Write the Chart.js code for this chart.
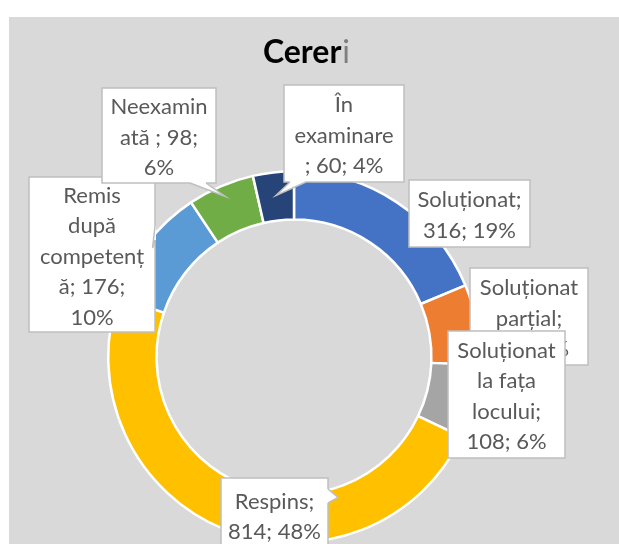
<!DOCTYPE html>
<html lang="ro">
<head>
<meta charset="UTF-8" />
<title>Cereri</title>
<script src="https://cdn.jsdelivr.net/npm/chart.js"></script>
<style>
  html, body { margin: 0; padding: 0; background: #fff; }
  #wrap { position: relative; width: 619px; height: 544px; overflow: hidden; }
  #panel { position: absolute; left: 9px; top: 17px; right: 0; bottom: 0; background: #d9d9d9; }
  #chart { position: absolute; left: 0; top: 0; }
</style>
</head>
<body>
<div id="wrap">
  <div id="panel"></div>
  <canvas id="chart" width="619" height="544"></canvas>
</div>
<script>
const chartTitle = "Cereri";
const categories = ["Soluționat", "Soluționat parțial", "Soluționat la fața locului", "Respins", "Remis după competență", "Neexaminată ", "În examinare "];
const values = [316, 118, 108, 814, 176, 98, 60];
const colors = ["#4472c4", "#ed7d31", "#a5a5a5", "#ffc000", "#5b9bd5", "#70ad47", "#264478"];

// callout boxes, one per slice (same order as categories)
// ptr: base points on the box edge, tip at a ring fraction f, optional angle in degrees
const boxes = [
  { x: 409, y: 180, w: 121, h: 67, wrap: 110 },
  { x: 470, y: 268, w: 118, h: 97, wrap: 106 },
  { x: 448, y: 331, w: 117, h: 127, wrap: 105 },
  { x: 221, y: 478, w: 107, h: 74, wrap: 100, ptr: { base: [328, 489, 328, 503], f: 0.2, angle: 162.6 } },
  { x: 29, y: 177, w: 126, h: 155, wrap: 106, ptr: { base: [155, 226, 155, 240], f: 0.85 } },
  { x: 102, y: 88, w: 114, h: 95, wrap: 102, ptr: { base: [190, 183, 206, 183], f: 0.77 } },
  { x: 284, y: 85, w: 120, h: 97, wrap: 104, ptr: { base: [290, 182, 306, 182], f: 0.52 } },
];

const FONT = "Lato, 'Noto Sans', sans-serif";
const total = values.reduce((a, b) => a + b, 0);

function wrapText(ctx, text, maxW) {
  const lines = [];
  let line = "";
  text.split(" ").filter((w) => w.length).forEach((word) => {
    const cand = line ? line + " " + word : word;
    if (ctx.measureText(cand).width <= maxW) {
      line = cand;
      return;
    }
    if (line) lines.push(line);
    line = word;
    while (ctx.measureText(line).width > maxW) {
      let n = line.length - 1;
      while (n > 1 && ctx.measureText(line.slice(0, n)).width > maxW) n--;
      lines.push(line.slice(0, n));
      line = line.slice(n);
    }
  });
  if (line) lines.push(line);
  return lines;
}

const calloutPlugin = {
  id: "callouts",
  afterDatasetsDraw(chart) {
    const ctx = chart.ctx;
    const arcs = chart.getDatasetMeta(0).data;
    ctx.save();
    arcs.forEach((arc, i) => {
      const b = boxes[i];
      const p = arc.getProps(["x", "y", "startAngle", "endAngle", "innerRadius", "outerRadius"], true);

      ctx.fillStyle = "#fff";
      ctx.strokeStyle = "#bfbfbf";
      ctx.lineWidth = 1.5;
      ctx.fillRect(b.x, b.y, b.w, b.h);
      ctx.strokeRect(b.x, b.y, b.w, b.h);

      if (b.ptr) {
        const ang = b.ptr.angle != null
          ? -Math.PI / 2 + (b.ptr.angle * Math.PI) / 180
          : (p.startAngle + p.endAngle) / 2;
        const r = p.innerRadius + (p.outerRadius - p.innerRadius) * b.ptr.f;
        const tx = p.x + Math.cos(ang) * r;
        const ty = p.y + Math.sin(ang) * r;
        const [x1, y1, x2, y2] = b.ptr.base;
        ctx.beginPath();
        ctx.moveTo(x1, y1);
        ctx.lineTo(tx, ty);
        ctx.lineTo(x2, y2);
        ctx.closePath();
        ctx.fill();
        ctx.strokeStyle = "#fff";
        ctx.lineWidth = 2;
        ctx.beginPath();
        ctx.moveTo(x1, y1);
        ctx.lineTo(x2, y2);
        ctx.stroke();
        ctx.strokeStyle = "#bfbfbf";
        ctx.lineWidth = 1.5;
        ctx.beginPath();
        ctx.moveTo(x1, y1);
        ctx.lineTo(tx, ty);
        ctx.lineTo(x2, y2);
        ctx.stroke();
      }

      const pct = Math.round((values[i] / total) * 100);
      const text = categories[i] + "; " + values[i] + "; " + pct + "%";
      ctx.font = "22px " + FONT;
      ctx.fillStyle = "#595959";
      ctx.textAlign = "center";
      ctx.textBaseline = "middle";
      const lines = wrapText(ctx, text, b.wrap);
      const lh = 30.5;
      const cy = b.y + b.h / 2 + 2 - ((lines.length - 1) * lh) / 2;
      lines.forEach((ln, k) => ctx.fillText(ln, b.x + b.w / 2, cy + k * lh));
    });
    ctx.restore();
  },
  afterDraw(chart) {
    const ctx = chart.ctx;
    ctx.save();
    const head = chartTitle.slice(0, -1);
    const tail = chartTitle.slice(-1);
    ctx.font = "bold 32px " + FONT;
    const w1 = ctx.measureText(head).width;
    ctx.font = "32px " + FONT;
    const w2 = ctx.measureText(tail).width;
    const x0 = 306 - (w1 + w2) / 2;
    ctx.textBaseline = "alphabetic";
    ctx.textAlign = "left";
    ctx.font = "bold 32px " + FONT;
    ctx.fillStyle = "#000";
    ctx.fillText(head, x0, 63);
    ctx.font = "32px " + FONT;
    ctx.fillStyle = "#7f7f7f";
    ctx.fillText(tail, x0 + w1 + 1, 63);
    ctx.restore();
  },
};

new Chart(document.getElementById("chart"), {
  type: "doughnut",
  data: {
    labels: categories,
    datasets: [
      {
        data: values,
        backgroundColor: colors,
        borderColor: "#fff",
        borderWidth: 2.5,
      },
    ],
  },
  options: {
    responsive: false,
    animation: false,
    cutout: "74%",
    layout: { padding: { left: 107, right: 138, top: 170, bottom: 0 } },
    plugins: {
      legend: { display: false },
      tooltip: { enabled: false },
      title: { display: false },
    },
  },
  plugins: [calloutPlugin],
});
</script>
</body>
</html>
